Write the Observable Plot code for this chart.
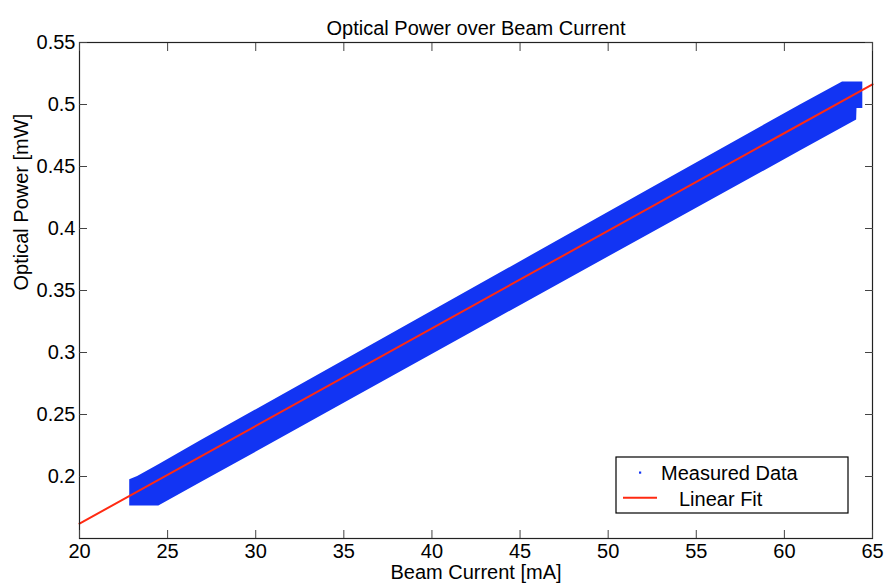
<!DOCTYPE html>
<html><head><meta charset="utf-8">
<script src="https://cdn.jsdelivr.net/npm/d3@7"></script>
<script src="https://cdn.jsdelivr.net/npm/@observablehq/plot@0.6"></script>
<style>
body{margin:0;background:#fff;}
#wrap{position:relative;width:885px;height:586px;font-family:"Liberation Sans",Arial,Helvetica,sans-serif;}
#wrap svg{display:block;}
#legend{position:absolute;left:0;top:0;pointer-events:none;}
</style></head><body><div id="wrap"></div>
<script>
const title = "Optical Power over Beam Current";
const xLabel = "Beam Current [mA]";
const yLabel = "Optical Power [mW]";
const xTicks = [20, 25, 30, 35, 40, 45, 50, 55, 60, 65];
const yTicks = [0.2, 0.25, 0.3, 0.35, 0.4, 0.45, 0.5, 0.55];

// Measured data: the dense cloud of points, read as its lower / upper edges
const bandCurrent = [22.85, 23.3, 24.5, 26.9, 35.4, 43.9, 52.4, 60.9, 63.3, 64.1, 64.12, 64.45];
const bandLow     = [0.1762, 0.1762, 0.1762, 0.1951, 0.2620, 0.3290, 0.3958, 0.4624, 0.4813, 0.4876, 0.4967, 0.4967];
const bandHigh    = [0.1973, 0.2000, 0.2095, 0.2290, 0.2966, 0.3643, 0.4320, 0.4996, 0.5182, 0.5182, 0.5182, 0.5182];

// Linear fit
const fitCurrent = [20, 65];
const fitPower   = [0.162, 0.5163];

const seriesNames = ["Measured Data", "Linear Fit"];
const blue = "#1234f3";
const red = "#ff2a12";
const font = '"Liberation Sans", Arial, Helvetica, sans-serif';

const band = bandCurrent.map((x, i) => ({x, lo: bandLow[i], hi: bandHigh[i]}));
const fit = fitCurrent.map((x, i) => ({x, y: fitPower[i]}));

const chart = Plot.plot({
  width: 885, height: 586,
  marginLeft: 79, marginRight: 13, marginTop: 42, marginBottom: 48,
  style: {fontFamily: font, fontSize: "20px", color: "#000", background: "#fff", overflow: "visible"},
  x: {domain: [20, 65]},
  y: {domain: [0.15, 0.55]},
  marks: [
    Plot.areaY(band, {x: "x", y1: "lo", y2: "hi", fill: blue, curve: "linear"}),
    Plot.line(fit, {x: "x", y: "y", stroke: red, strokeWidth: 2}),
    Plot.frame({stroke: "#222", strokeWidth: 1.2}),
    Plot.axisX({ticks: xTicks, tickSize: -8, tickPadding: 13, label: null, stroke: "#444", fontSize: 20}),
    Plot.axisX({anchor: "top", ticks: xTicks, tickSize: -8, tickFormat: () => "", label: null, stroke: "#444"}),
    Plot.axisY({ticks: yTicks, tickSize: -8, tickPadding: 12, tickFormat: d => String(d), label: null, stroke: "#444", fontSize: 20}),
    Plot.axisY({anchor: "right", ticks: yTicks, tickSize: -8, tickFormat: () => "", label: null, stroke: "#444"}),
    Plot.text([title], {frameAnchor: "top", dy: -22, text: d => d, fontSize: 20, fill: "#000"}),
    Plot.text([xLabel], {frameAnchor: "bottom", dy: 40.5, text: d => d, fontSize: 20, fill: "#000"}),
    Plot.text([yLabel], {frameAnchor: "left", dx: -58, rotate: -90, text: d => d, fontSize: 20, fill: "#000"})
  ]
});
const wrap = document.getElementById("wrap");
wrap.appendChild(chart);

// Legend box (MATLAB style)
const lg = d3.select(wrap).append("svg").attr("id", "legend")
  .attr("width", 885).attr("height", 586)
  .style("font-family", font).style("font-size", "20px");
lg.append("rect").attr("x", 616).attr("y", 457).attr("width", 232).attr("height", 56)
  .attr("fill", "#fff").attr("stroke", "#000").attr("stroke-width", 1.2);
lg.append("rect").attr("x", 639).attr("y", 471.5).attr("width", 2.2).attr("height", 2.2).attr("fill", blue);
lg.append("text").attr("x", 661).attr("y", 480).text(seriesNames[0]);
lg.append("line").attr("x1", 623).attr("x2", 657).attr("y1", 497.7).attr("y2", 497.7)
  .attr("stroke", red).attr("stroke-width", 2);
lg.append("text").attr("x", 679).attr("y", 506).text(seriesNames[1]);
</script></body></html>
